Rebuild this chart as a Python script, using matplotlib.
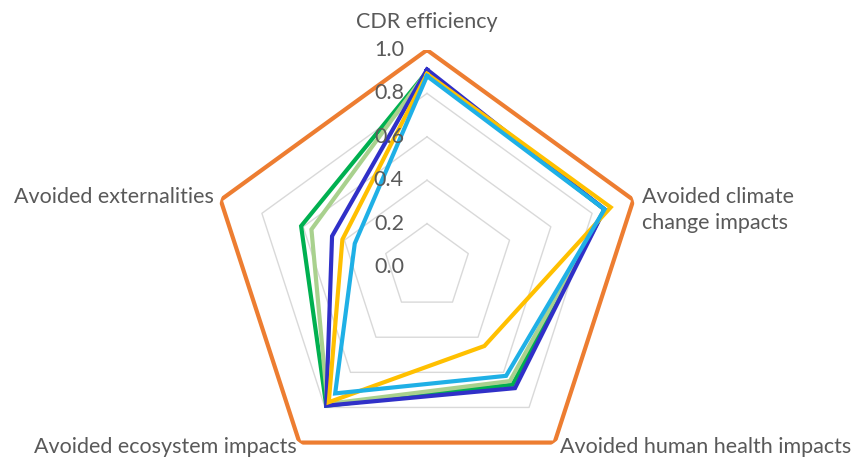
import numpy as np
import matplotlib
matplotlib.use("Agg")
import matplotlib.pyplot as plt

categories = ["CDR efficiency", "Avoided climate\nchange impacts", "Avoided human health impacts",
              "Avoided ecosystem impacts", "Avoided externalities"]
ticks = [0.0, 0.2, 0.4, 0.6, 0.8, 1.0]
tick_labels = ["0.0", "0.2", "0.4", "0.6", "0.8", "1.0"]

reference = [1.0, 1.0, 1.0, 1.0, 1.0]
series_green = [0.90, 0.86, 0.67, 0.79, 0.61]
series_lightgreen = [0.90, 0.86, 0.65, 0.78, 0.56]
series_navy = [0.91, 0.86, 0.69, 0.79, 0.46]
series_yellow = [0.89, 0.89, 0.45, 0.77, 0.41]
series_blue = [0.88, 0.86, 0.62, 0.72, 0.35]

series = [
    (reference, "#ED7D31"),
    (series_green, "#00B050"),
    (series_lightgreen, "#A9D18E"),
    (series_navy, "#3030C8"),
    (series_yellow, "#FFC000"),
    (series_blue, "#1FB0E6"),
]

W, H = 856, 462
fig = plt.figure(figsize=(W / 100, H / 100), dpi=100)
cx, cy, R = 427, 267, 217
ax = fig.add_axes([(cx - R) / W, (H - cy - R) / H, 2 * R / W, 2 * R / H], projection="polar")
ax.set_theta_offset(np.pi / 2)
ax.set_theta_direction(-1)
ax.set_ylim(0, 1)
ax.grid(False)
ax.spines["polar"].set_visible(False)
ax.set_xticks([])
ax.set_yticks([])
ax.patch.set_alpha(0)

n = len(categories)
theta = np.linspace(0, 2 * np.pi, n, endpoint=False)
theta_closed = np.append(theta, theta[0])

# pentagonal gridlines
for t in ticks[1:]:
    ax.plot(theta_closed, [t] * (n + 1), color="#D9D9D9", lw=1.0, zorder=1)

for vals, col in series:
    v = list(vals) + [vals[0]]
    ax.plot(theta_closed, v, color=col, lw=3.0, solid_joinstyle="miter", zorder=3)

text_col = "#595959"
font = "Lato"
fs = 15.5
for t, lab in zip(ticks, tick_labels):
    ax.annotate(lab, xy=(0, t), xytext=(-23, 0), textcoords="offset pixels",
                ha="right", va="center", fontsize=fs, color=text_col, family=font, zorder=4)

label_offsets = [
    ((0, 18), "center", "bottom"),
    ((9, -10), "left", "center"),
    ((5, -4), "left", "center"),
    ((-3, -4), "right", "center"),
    ((-7, 3), "right", "center"),
]
for th, lab, (off, ha, va) in zip(theta, categories, label_offsets):
    ax.annotate(lab, xy=(th, 1.0), xytext=off, textcoords="offset pixels",
                ha=ha, va=va, fontsize=fs, color=text_col, family=font,
                linespacing=1.35, annotation_clip=False)

fig.savefig("out.png", dpi=100)
